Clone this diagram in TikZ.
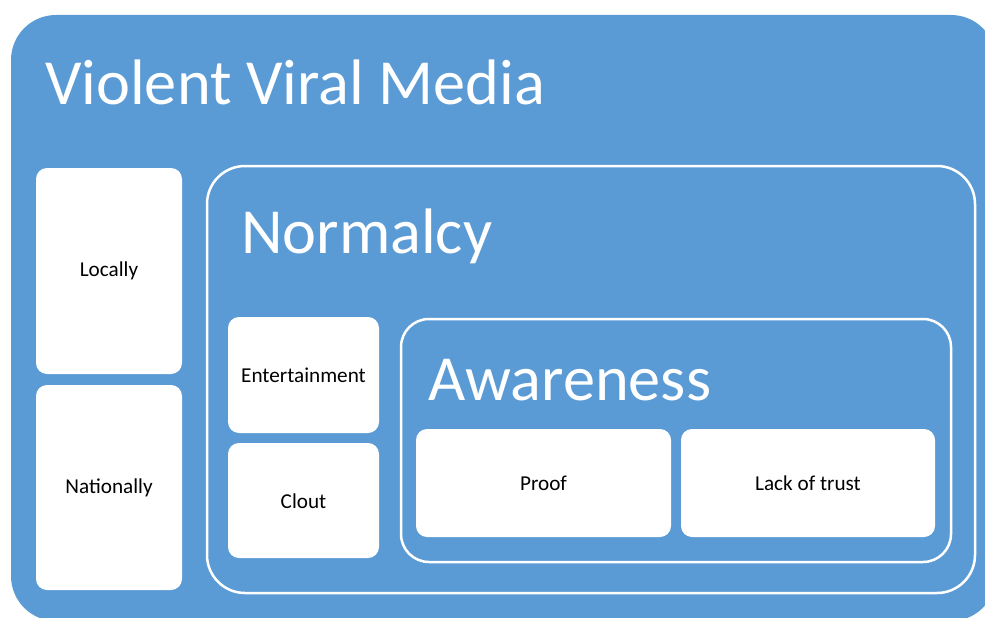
\documentclass[tikz,border=0pt]{standalone}
\usepackage{fontspec}
\setmainfont{Carlito}
\definecolor{officeblue}{HTML}{5B9BD5}
\tikzset{
  outerbox/.style={fill=officeblue, draw=none, rounded corners=45pt},
  framebox/.style={draw=white, line width=2.5pt, rounded corners=#1},
  whitebox/.style={fill=white, draw=none, rounded corners=11pt},
  bigtitle/.style={text=white, font=\fontsize{64.3}{70}\selectfont, inner sep=0pt, anchor=base west},
  smalltext/.style={text=black, font=\fontsize{21.2}{25}\selectfont, inner sep=0pt}
}
\begin{document}
\begin{tikzpicture}[x=1pt,y=-1pt]
\useasboundingbox (0,0) rectangle (985,618);
\clip (0,0) rectangle (985,618);
\fill[outerbox] (11,15) rectangle (996,621);
\node[bigtitle] (vvm) at (45,104) {Violent Viral Media};
% left column
\fill[whitebox] (36,168) rectangle (182,374);
\node[smalltext] (locally) at (109,271) {Locally};
\fill[whitebox] (36,385) rectangle (182,590);
\node[smalltext] (nationally) at (109,488) {Nationally};
% Normalcy frame
\draw[framebox=38pt] (207,166) rectangle (975,593);
\node[bigtitle] (normalcy) at (241,253) {Normalcy};
\fill[whitebox] (228,317) rectangle (379,433);
\node[smalltext] (ent) at (303.5,375) {Entertainment};
\fill[whitebox] (228,443) rectangle (379,558);
\node[smalltext] (clout) at (303.5,501) {Clout};
% Awareness frame
\draw[framebox=28pt] (401,319) rectangle (951,562);
\node[bigtitle] (awareness) at (428,400) {Awareness};
\fill[whitebox] (416,429) rectangle (671,537);
\node[smalltext] (proof) at (543.5,483) {Proof};
\fill[whitebox] (681,429) rectangle (935,537);
\node[smalltext] (lack) at (808,483) {Lack of trust};
\end{tikzpicture}
\end{document}
